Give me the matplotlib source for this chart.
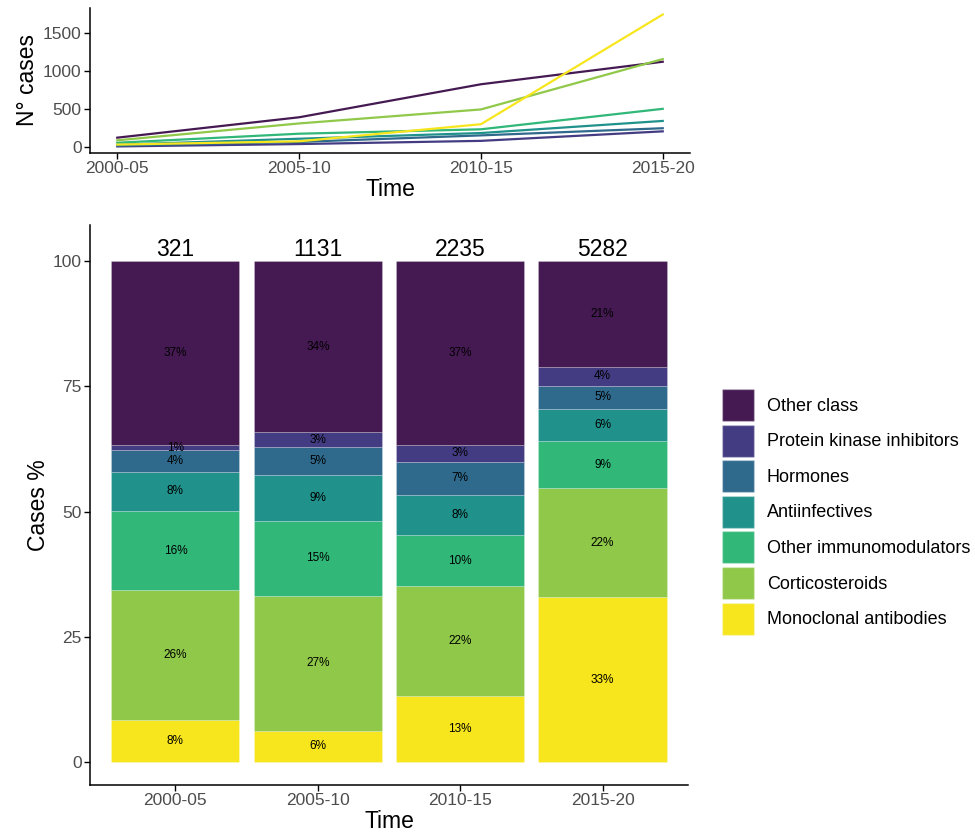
import numpy as np
import matplotlib
matplotlib.use("Agg")
import matplotlib.pyplot as plt
from matplotlib.patches import Patch

plt.rcParams["font.family"] = ["Liberation Sans", "DejaVu Sans"]

# ==============================
# DATA
# ==============================
periods = ["2000-05", "2005-10", "2010-15", "2015-20"]

classes = ["Other class", "Protein kinase inhibitors", "Hormones", "Antiinfectives",
           "Other immunomodulators", "Corticosteroids", "Monoclonal antibodies"]
colors = ["#451A52", "#433C82", "#2F6A8D", "#20918B", "#31B778", "#90C849", "#F7E61E"]

# cases per class and period (same order as classes)
other_class = [118, 386, 820, 1116]
pki = [3, 34, 76, 201]
hormones = [14, 62, 148, 242]
antiinfectives = [25, 104, 179, 338]
other_immuno = [51, 170, 228, 497]
corticosteroids = [83, 305, 489, 1151]
monoclonal = [27, 70, 295, 1737]

counts = np.array([other_class, pki, hormones, antiinfectives,
                   other_immuno, corticosteroids, monoclonal], dtype=float)
totals = counts.sum(axis=0)
pct = counts / totals * 100

# ==============================
# FIGURE
# ==============================
fig = plt.figure(figsize=(9.75, 8.39), dpi=100)

ax1 = fig.add_axes([0.0923, 0.8176, 0.6154, 0.173])
ax2 = fig.add_axes([0.0923, 0.0644, 0.6133, 0.6674])

x = np.arange(len(periods))

# top: line chart
for i, cls in enumerate(classes):
    ax1.plot(x, counts[i], color=colors[i], lw=1.6)

ax1.set_xlim(-0.15, 3.15)
ax1.set_ylim(-84, 1824)
ax1.set_yticks([0, 500, 1000, 1500])
ax1.set_xticks(x)
ax1.set_xticklabels(periods)
ax1.set_xlabel("Time", fontsize=16.5, labelpad=1)
ax1.set_ylabel("N° cases", fontsize=16.5, labelpad=3)

# bottom: stacked percent bars
bottom = np.zeros(len(periods))
for i in range(len(classes) - 1, -1, -1):
    ax2.bar(x, pct[i], bottom=bottom, width=0.9, color=colors[i],
            edgecolor=(1, 1, 1, 0.25), linewidth=0.6)
    for j in range(len(periods)):
        ax2.text(x[j], bottom[j] + pct[i][j] / 2, f"{pct[i][j]:.0f}%",
                 ha="center", va="center", fontsize=8.5, color="black")
    bottom += pct[i]

for j in range(len(periods)):
    ax2.text(x[j], 100, f"{int(totals[j])}", ha="center", va="bottom",
             fontsize=16.5, color="black")

ax2.set_xlim(-0.6, 3.6)
ax2.set_ylim(-4.6, 107.2)
ax2.set_yticks([0, 25, 50, 75, 100])
ax2.set_xticks(x)
ax2.set_xticklabels(periods)
ax2.set_xlabel("Time", fontsize=16.5, labelpad=1)
ax2.set_ylabel("Cases %", fontsize=16.5, labelpad=2)

for ax in (ax1, ax2):
    for s in ("top", "right"):
        ax.spines[s].set_visible(False)
    for s in ("left", "bottom"):
        ax.spines[s].set_linewidth(1.1)
    ax.tick_params(labelsize=12.5, labelcolor="#4d4d4d", length=4, width=1.0, pad=2)

handles = [Patch(facecolor=c, edgecolor=(1, 1, 1, 0.3)) for c in colors]
fig.legend(handles, classes, loc="center left", bbox_to_anchor=(0.741, 0.39),
           frameon=False, fontsize=13, handlelength=1.75, handleheight=2.35,
           labelspacing=0.2, handletextpad=0.7, borderpad=0, borderaxespad=0)

fig.savefig("out.png", dpi=100)
